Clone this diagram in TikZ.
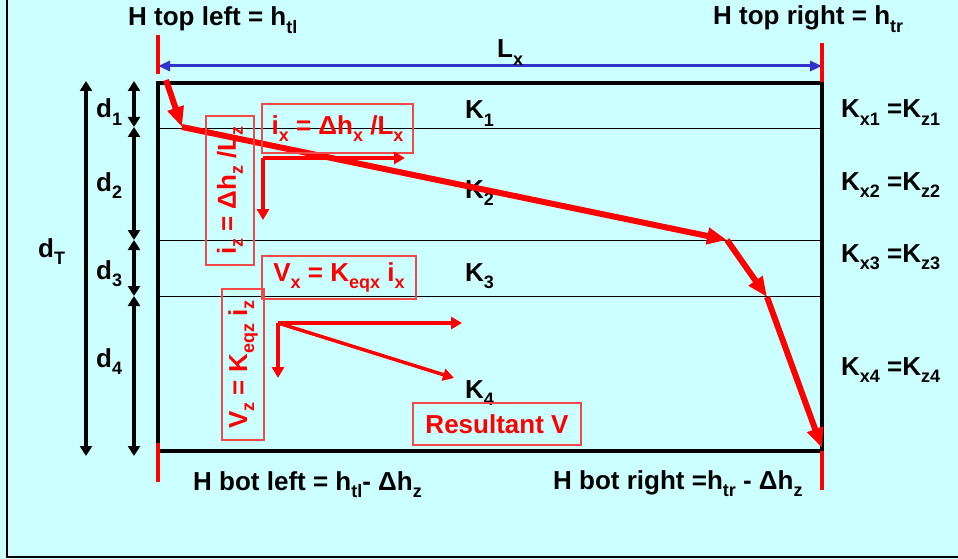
\documentclass[tikz,border=0pt]{standalone}
\usepackage{fontspec}
\setmainfont{Liberation Sans}
\usepackage{tikz}
\usetikzlibrary{arrows.meta,positioning}
\definecolor{pale}{RGB}{204,255,255}
\definecolor{boxred}{RGB}{242,72,72}
\definecolor{lenblue}{RGB}{51,51,204}
\newcommand{\sbs}[1]{\raisebox{-0.27em}{\fontsize{18}{20}\selectfont #1}}

\begin{document}
\begin{tikzpicture}[x=1pt,y=-1pt,
     lbl/.style={inner sep=0pt,anchor=base west,font=\fontsize{26}{30}\selectfont\bfseries},
     eqbox/.style={draw=boxred,line width=1.3pt,inner sep=0pt,text=red,align=center,font=\fontsize{26}{30}\selectfont\bfseries},
     stratum/.style={line width=0.8pt},
     dimarrow/.style={line width=3.5pt,{Triangle[length=10pt,width=12pt]}-{Triangle[length=10pt,width=12pt]}},
     headtick/.style={red,line width=3.5pt},
     flowseg/.style={red,line width=6pt,-{Triangle[length=20pt,width=16pt]}},
     vec/.style={red,line width=3.5pt,-{Triangle[length=11pt,width=12pt]}}]
    \useasboundingbox (0,0) rectangle (958,559);
    \clip (0,0) rectangle (958,559);
    \fill[pale] (0,0) rectangle (958,559);
    \draw[line width=2pt] (7,-5) -- (7,557) -- (965,557);
    % soil column
    \coordinate (tl) at (158,83);
    \coordinate (br) at (822,451);
    \foreach \yy in {128,240,296}
      \draw[stratum] (158,\yy) -- (822,\yy);
    \draw[line width=4pt] (tl) rectangle (br);
    % length L_x
    \coordinate (lxa) at (158,66);
    \coordinate (lxb) at (822,66);
    \draw[lenblue,line width=3pt,{Triangle[length=12pt,width=10pt]}-{Triangle[length=12pt,width=10pt]}] (lxa) -- (lxb);
    \node[lbl] (lx) at (497,58) {L\sbs{x}};
    \draw[headtick] (158,35) -- (158,74);
    \draw[headtick] (822,43) -- (822,82);
    \draw[headtick] (158,443) -- (158,482);
    \draw[headtick] (822,451) -- (822,490);
    % thicknesses
    \coordinate (dtop) at (86,81);
    \coordinate (dbot) at (86,456);
    \draw[dimarrow] (dtop) -- (dbot);
    \coordinate (e0) at (134,81);
    \coordinate (e1) at (134,127);
    \coordinate (e2) at (134,240);
    \coordinate (e3) at (134,296);
    \coordinate (e4) at (134,456);
    \draw[dimarrow] (e0) -- (e1);
    \draw[dimarrow] (e1) -- (e2);
    \draw[dimarrow] (e2) -- (e3);
    \draw[dimarrow] (e3) -- (e4);
    \node[lbl] (dt) at (38,257) {d\sbs{T}};
    \node[lbl] (d1) at (96,118) {d\sbs{1}};
    \node[lbl] (d2) at (96,191) {d\sbs{2}};
    \node[lbl] (d3) at (96,279) {d\sbs{3}};
    \node[lbl] (d4) at (96,367) {d\sbs{4}};
    % layers
    \node[lbl] (k1) at (465,119) {K\sbs{1}};
    \node[lbl] (k2) at (465,198) {K\sbs{2}};
    \node[lbl] (k3) at (465,281) {K\sbs{3}};
    \node[lbl] (k4) at (465,398) {K\sbs{4}};
    \node[lbl] (kx1) at (841,118) {K\sbs{x1} =K\sbs{z1}};
    \node[lbl] (kx2) at (841,190) {K\sbs{x2} =K\sbs{z2}};
    \node[lbl] (kx3) at (841,262) {K\sbs{x3} =K\sbs{z3}};
    \node[lbl] (kx4) at (841,375) {K\sbs{x4} =K\sbs{z4}};
    % heads
    \node[lbl] (htl) at (128,26) {H top left = h\sbs{tl}};
    \node[lbl] (htr) at (713,25) {H top right = h\sbs{tr}};
    \node[lbl] (hbl) at (193,490) {H bot left = h\sbs{tl}- Δh\sbs{z}};
    \node[lbl] (hbr) at (553,489) {H bot right =h\sbs{tr} - Δh\sbs{z}};
    % flow line
    \coordinate (p0) at (166,80);
    \coordinate (p1) at (182,127);
    \coordinate (p2) at (727,240);
    \coordinate (p3) at (767,297);
    \coordinate (p4) at (822,448);
    \draw[flowseg] (p0) -- (p1);
    \draw[flowseg] (p1) -- (p2);
    \draw[flowseg] (p2) -- (p3);
    \draw[flowseg] (p3) -- (p4);
    % gradients and velocities
    \node[eqbox,minimum width=151pt,minimum height=49pt] (ix) at (337.5,128.5) {i\sbs{x} = Δh\sbs{x} /L\sbs{x}};
    \node[eqbox,rotate=90,minimum width=149pt,minimum height=48pt] (iz) at (230,190.5) {i\sbs{z} = Δh\sbs{z} /L\sbs{z}};
    \node[eqbox,minimum width=154pt,minimum height=43pt] (vx) at (339,277.5) {V\sbs{x} = K\sbs{eqx} i\sbs{x}};
    \node[eqbox,rotate=90,minimum width=151pt,minimum height=42pt] (vz) at (243,364.5) {V\sbs{z} = K\sbs{eqz} i\sbs{z}};
    \node[eqbox,minimum width=168pt,minimum height=42pt] (res) at (497,424) {Resultant V};
    \coordinate (q0) at (263,158);
    \coordinate (qx) at (405,158);
    \coordinate (qz) at (263,220);
    \draw[vec] (q0) -- (qx);
    \draw[vec] (q0) -- (qz);
    \coordinate (r0) at (278,323);
    \coordinate (rx) at (462,323);
    \coordinate (rz) at (278,378);
    \coordinate (rv) at (454,378);
    \draw[vec] (r0) -- (rx);
    \draw[vec] (r0) -- (rz);
    \draw[vec] (r0) -- (rv);
  \end{tikzpicture}
\end{document}
